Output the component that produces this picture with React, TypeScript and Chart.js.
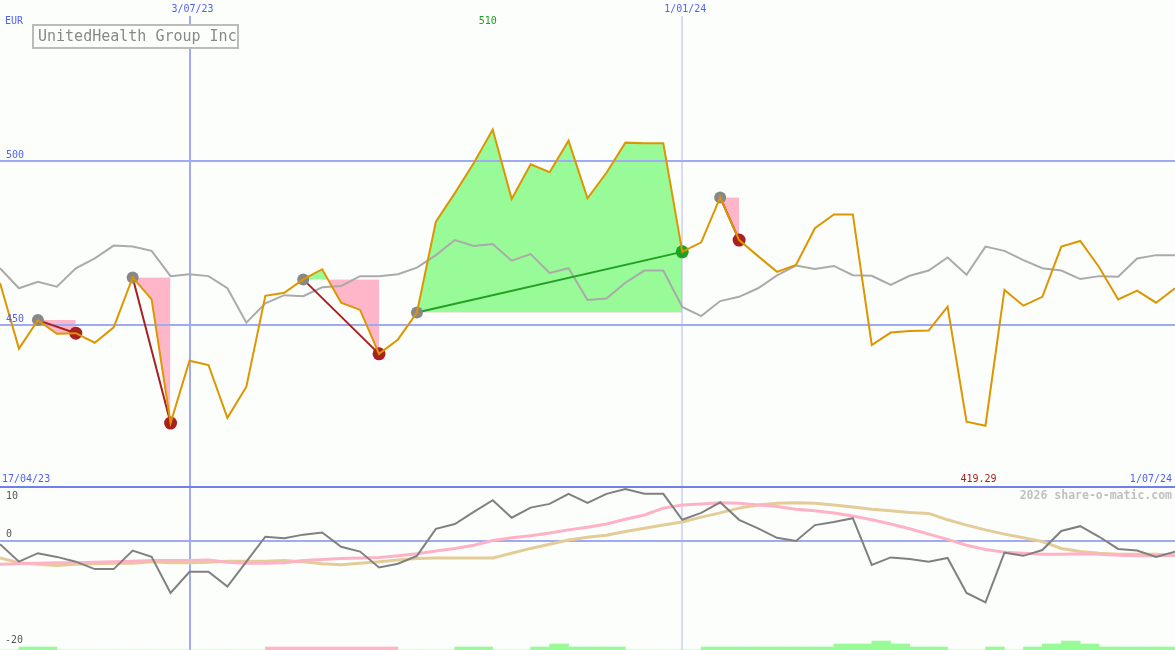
import React, { useEffect, useRef } from 'react';
import { Chart, registerables } from 'chart.js';

Chart.register(...registerables);

// ---------- data ----------
const titleText = 'UnitedHealth Group Inc';
const currency = 'EUR';
const startLabel = '17/04/23';
const endLabel = '1/07/24';
const dateTickIdx = [10, 36];
const dateTickLabels = ['3/07/23', '1/01/24'];
const priceTicks = [450, 500];
const oscTicks = [10, 0, -20];
const maxLabel = '510';
const minLabel = '419.29';
const maxIdx = 26;
const minIdx = 52;
const watermark = '2026 share-o-matic.com';

// weekly closes (index 0 .. 62)
const price = [
  462.8, 442.8, 451.5, 447.3, 447.5, 444.6, 449.3, 464.5, 457.8, 420.1,
  439.1, 437.8, 421.7, 431.2, 458.9, 459.8, 463.9, 467.0, 456.8, 454.6,
  441.2, 445.6, 453.8, 481.5, 490.2, 499.4, 509.6, 488.4, 499.0, 496.6,
  506.2, 488.6, 496.4, 505.6, 505.4, 505.4, 472.3, 475.2, 488.9, 475.9,
  471.0, 466.2, 468.3, 479.5, 483.7, 483.7, 443.9, 447.7, 448.2, 448.3,
  455.6, 420.5, 419.29, 460.7, 455.9, 458.6, 473.9, 475.6, 467.6, 457.8,
  460.5, 456.8, 461.2,
];

// moving average (grey line, upper panel)
const priceAvg = [
  467.3, 461.2, 463.2, 461.7, 467.3, 470.3, 474.2, 473.9, 472.6, 464.9,
  465.5, 464.9, 461.2, 450.7, 456.6, 459.1, 458.8, 461.5, 461.9, 464.9,
  464.9, 465.5, 467.5, 471.3, 475.9, 474.1, 474.7, 469.6, 471.6, 465.9,
  467.3, 457.6, 458.1, 462.9, 466.6, 466.6, 455.5, 452.7, 457.3, 458.6,
  461.2, 465.1, 468.1, 467.1, 468.0, 465.2, 465.0, 462.2, 465.0, 466.6,
  470.6, 465.3, 473.9, 472.6, 469.8, 467.3, 466.6, 464.0, 464.9, 464.7,
  470.3, 471.3, 471.3,
];

// oscillator (dark grey, lower panel)
const osc = [
  -0.6, -3.9, -2.3, -3.0, -3.9, -5.3, -5.3, -1.8, -3.0, -9.8,
  -5.8, -5.8, -8.6, -3.9, 0.8, 0.5, 1.2, 1.6, -1.1, -2.0,
  -5.0, -4.3, -2.8, 2.3, 3.2, 5.5, 7.7, 4.4, 6.3, 7.0,
  8.9, 7.2, 8.9, 9.8, 8.9, 8.9, 4.0, 5.3, 7.3, 4.0,
  2.4, 0.6, 0.0, 3.0, 3.6, 4.3, -4.5, -3.1, -3.4, -3.9,
  -3.2, -9.8, -11.6, -2.2, -2.8, -1.7, 1.9, 2.8, 0.8, -1.5,
  -1.8, -3.0, -2.0,
];

// signal line (pink, lower panel)
const oscSignal = [
  -4.4, -4.3, -4.2, -4.1, -4.1, -4.0, -3.9, -3.8, -3.7, -3.7,
  -3.7, -3.6, -4.0, -4.2, -4.2, -4.1, -3.7, -3.5, -3.3, -3.2,
  -3.1, -2.8, -2.4, -1.9, -1.4, -0.8, 0.1, 0.6, 1.0, 1.5,
  2.1, 2.6, 3.2, 4.1, 4.9, 6.2, 6.8, 7.0, 7.2, 7.1,
  6.8, 6.5, 6.0, 5.7, 5.3, 4.7, 4.0, 3.2, 2.3, 1.3,
  0.3, -0.8, -1.6, -2.1, -2.3, -2.5, -2.5, -2.4, -2.5, -2.7,
  -2.8, -2.8, -2.7,
];

// slow line (tan, lower panel)
const oscSlow = [
  -3.2, -4.1, -4.4, -4.6, -4.4, -4.3, -4.2, -4.2, -3.9, -4.1,
  -4.1, -4.0, -3.8, -3.8, -3.8, -3.7, -3.9, -4.3, -4.5, -4.2,
  -3.9, -3.6, -3.3, -3.2, -3.2, -3.2, -3.2, -2.3, -1.4, -0.6,
  0.2, 0.7, 1.1, 1.8, 2.4, 3.0, 3.6, 4.5, 5.3, 6.2,
  6.8, 7.1, 7.2, 7.1, 6.8, 6.4, 6.0, 5.7, 5.4, 5.2,
  4.0, 3.0, 2.1, 1.3, 0.6, -0.1, -1.4, -2.0, -2.3, -2.5,
  -2.5, -2.5, -2.7,
];

// signal strength per week interval (+ green, - pink)
const signalBars = [
  0, 1, 1, 0, 0, 0, 0, 0, 0, 0, 0, 0, 0, 0, -1, -1, -1, -1, -1, -1,
  -1, 0, 0, 0, 1, 1, 0, 0, 1, 2, 1, 1, 1, 0, 0, 0, 0, 1, 1, 1,
  1, 1, 1, 1, 2, 2, 3, 2, 1, 1, 0, 0, 1, 0, 1, 2, 3, 2, 1, 1,
  1, 1,
];

const tradeEntry = [2, 7, 16, 22, 38];
const tradeExit = [4, 9, 20, 36, 39];

// ---------- styles ----------
const W = 1175;
const H = 650;
const BG = '#fcfefc';
const GRID = '#a0aaf0';
const GRID_LIGHT = '#b0b6e8';
const DIVIDER = '#7080e8';
const BLUE_TEXT = '#5262f0';
const GREEN_FILL = '#98fb98';
const PINK_FILL = '#ffb6c8';
const ORANGE = '#dd9600';
const AVG_GREY = '#aaaaaa';
const OSC_GREY = '#808080';
const SIG_PINK = '#ffb2c6';
const SLOW_TAN = '#e4cc98';
const LOSS_RED = '#a82020';
const WIN_GREEN = '#22a022';
const ENTRY_GREY = '#888888';
const FONT = '"DejaVu Sans Mono", "Liberation Mono", monospace';
const PANEL_FLOOR = 400.6; // value on price axis where the upper panel ends

export default function App() {
  const ref = useRef<HTMLCanvasElement>(null);

  useEffect(() => {
    const canvas = ref.current;
    if (!canvas) return;

    const pts = (arr: number[]) => arr.map((v, i) => ({ x: i, y: v }));
    const datasets: any[] = [];

    // trade fills
    tradeEntry.forEach((e, k) => {
      const x = tradeExit[k];
      datasets.push({
        type: 'line',
        data: price.slice(e, x + 1).map((v, j) => ({ x: e + j, y: v })),
        yAxisID: 'y',
        borderWidth: 0,
        borderColor: 'rgba(0,0,0,0)',
        pointRadius: 0,
        fill: { target: { value: price[e] }, above: GREEN_FILL, below: PINK_FILL },
        order: 20,
      });
    });

    // bottom strip bars
    datasets.push({
      type: 'bar',
      data: signalBars.map((v, i) => ({ x: i + 0.5, y: Math.abs(v) })),
      yAxisID: 'yb',
      backgroundColor: signalBars.map((v) => (v >= 0 ? GREEN_FILL : PINK_FILL)),
      borderWidth: 0,
      barPercentage: 1,
      categoryPercentage: 1,
      grouped: false,
      order: 15,
    });

    // lower panel lines
    datasets.push({ type: 'line', data: pts(oscSlow), yAxisID: 'y2', borderColor: SLOW_TAN, borderWidth: 3, pointRadius: 0, fill: false, order: 12 });
    datasets.push({ type: 'line', data: pts(oscSignal), yAxisID: 'y2', borderColor: SIG_PINK, borderWidth: 3, pointRadius: 0, fill: false, order: 11 });
    datasets.push({ type: 'line', data: pts(osc), yAxisID: 'y2', borderColor: OSC_GREY, borderWidth: 2, pointRadius: 0, fill: false, order: 10 });

    // upper panel average
    datasets.push({ type: 'line', data: pts(priceAvg), yAxisID: 'y', borderColor: AVG_GREY, borderWidth: 2, pointRadius: 0, fill: false, order: 8 });

    // trade lines
    tradeEntry.forEach((e, k) => {
      const x = tradeExit[k];
      const win = price[x] > price[e];
      datasets.push({
        type: 'line',
        data: [{ x: e, y: price[e] }, { x, y: price[x] }],
        yAxisID: 'y',
        borderColor: win ? WIN_GREEN : LOSS_RED,
        borderWidth: 2,
        pointRadius: 0,
        fill: false,
        order: 6,
      });
    });

    // entry dots
    datasets.push({
      type: 'line',
      data: tradeEntry.map((e) => ({ x: e, y: price[e] })),
      yAxisID: 'y',
      showLine: false,
      pointRadius: 6,
      pointBorderWidth: 0,
      pointBackgroundColor: ENTRY_GREY,
      pointBorderColor: ENTRY_GREY,
      fill: false,
      order: 4,
    });
    // exit dots
    datasets.push({
      type: 'line',
      data: tradeExit.map((x) => ({ x, y: price[x] })),
      yAxisID: 'y',
      showLine: false,
      pointRadius: 6.5,
      pointBorderWidth: 0,
      pointBackgroundColor: tradeExit.map((x, k) => (price[x] > price[tradeEntry[k]] ? WIN_GREEN : LOSS_RED)),
      pointBorderColor: 'rgba(0,0,0,0)',
      fill: false,
      order: 3,
    });

    // price line on top
    datasets.push({ type: 'line', data: pts(price), yAxisID: 'y', borderColor: ORANGE, borderWidth: 2, pointRadius: 0, fill: false, order: 1 });

    const decor = {
      id: 'decor',
      beforeDraw(chart: any) {
        const ctx = chart.ctx;
        ctx.save();
        ctx.fillStyle = BG;
        ctx.fillRect(0, 0, chart.width, chart.height);
        ctx.restore();
      },
      beforeDatasetsDraw(chart: any) {
        const ctx = chart.ctx;
        const sx = chart.scales.x;
        const sy = chart.scales.y;
        const sy2 = chart.scales.y2;
        ctx.save();
        const hline = (y: number, color: string, w: number) => {
          ctx.fillStyle = color;
          ctx.fillRect(0, Math.round(y) - w / 2, W, w);
        };
        priceTicks.forEach((t) => hline(sy.getPixelForValue(t), GRID, 2));
        hline(sy2.getPixelForValue(0), GRID, 2);
        dateTickIdx.forEach((d, i) => {
          const px = Math.round(sx.getPixelForValue(d));
          const w = i === 0 ? 2 : 1;
          ctx.fillStyle = i === 0 ? GRID : GRID_LIGHT;
          ctx.fillRect(px - w / 2, 16, w, H - 16);
        });
        hline(sy.getPixelForValue(PANEL_FLOOR), DIVIDER, 2);
        ctx.restore();
      },
      afterDraw(chart: any) {
        const ctx = chart.ctx;
        const sx = chart.scales.x;
        const sy = chart.scales.y;
        const sy2 = chart.scales.y2;
        const floorPx = sy.getPixelForValue(PANEL_FLOOR);
        ctx.save();
        ctx.textBaseline = 'middle';
        ctx.font = `10px ${FONT}`;

        // top date labels
        ctx.fillStyle = BLUE_TEXT;
        ctx.textAlign = 'center';
        dateTickIdx.forEach((d, i) => {
          ctx.fillText(dateTickLabels[i], sx.getPixelForValue(d) + 3, 9);
        });
        // currency
        ctx.textAlign = 'left';
        ctx.fillText(currency, 5, 21);
        // price ticks
        priceTicks.forEach((t) => ctx.fillText(String(t), 6, sy.getPixelForValue(t) - 5.5));
        // bottom row of upper panel
        ctx.fillText(startLabel, 2, floorPx - 8);
        ctx.textAlign = 'right';
        ctx.fillText(endLabel, 1172, floorPx - 8);

        // max / min
        ctx.textAlign = 'center';
        ctx.fillStyle = '#20a020';
        ctx.fillText(maxLabel, sx.getPixelForValue(maxIdx) - 5, 21);
        ctx.fillStyle = LOSS_RED;
        ctx.fillText(minLabel, sx.getPixelForValue(minIdx) - 7, floorPx - 8);

        // oscillator ticks
        ctx.fillStyle = '#555555';
        ctx.textAlign = 'left';
        oscTicks.forEach((t) => {
          const py = Math.max(sy2.getPixelForValue(t) - 6.5, floorPx + 9);
          ctx.fillText(String(t), t < 0 ? 5 : 6, py);
        });

        // watermark
        ctx.textAlign = 'right';
        ctx.fillStyle = '#c0c0c0';
        ctx.font = `bold 11.5px ${FONT}`;
        ctx.fillText(watermark, 1172, floorPx + 9);

        // title box
        ctx.fillStyle = BG;
        ctx.fillRect(33, 25, 205, 23);
        ctx.strokeStyle = '#bbbbbb';
        ctx.lineWidth = 2;
        ctx.strokeRect(33, 25, 205, 23);
        ctx.fillStyle = '#888888';
        ctx.textAlign = 'left';
        ctx.font = `15px ${FONT}`;
        ctx.fillText(titleText, 38, 37);
        ctx.restore();
      },
    };

    const chart = new Chart(canvas, {
      type: 'line',
      data: { datasets },
      options: {
        animation: false,
        responsive: false,
        devicePixelRatio: 1,
        events: [],
        layout: { padding: 0, autoPadding: false },
        plugins: {
          legend: { display: false },
          title: { display: false },
          tooltip: { enabled: false },
          filler: { drawTime: 'beforeDatasetsDraw', propagate: false },
        },
        scales: {
          x: { type: 'linear', min: 0, max: 62, offset: false, display: false },
          y: { type: 'linear', min: 350.915, max: 549.085, display: false },
          y2: { type: 'linear', min: -20.566, max: 102.075, display: false },
          yb: { type: 'linear', min: 0, max: 650 / 3, display: false, beginAtZero: true },
        },
      } as any,
      plugins: [decor],
    });

    return () => chart.destroy();
  }, []);

  return (
    <canvas
      ref={ref}
      width={W}
      height={H}
      style={{ position: 'fixed', left: 0, top: 0, width: W, height: H, display: 'block' }}
    />
  );
}
